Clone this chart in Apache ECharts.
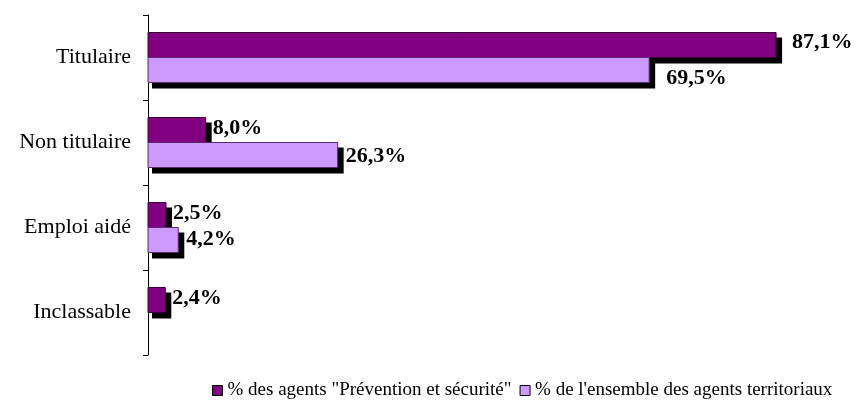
<!DOCTYPE html>
<html><head><meta charset="utf-8">
<script src="https://cdn.jsdelivr.net/npm/echarts@6/dist/echarts.min.js"></script>
<style>html,body{margin:0;padding:0;background:#fff}#c{width:859px;height:404px}</style>
</head><body><div id="c"></div>
<script>
const categories = ['Titulaire', 'Non titulaire', 'Emploi aidé', 'Inclassable'];
const seriesNames = ['% des agents "Prévention et sécurité"', "% de l'ensemble des agents territoriaux"];
const preventionValues = [87.1, 8.0, 2.5, 2.4];
const ensembleValues = [69.5, 26.3, 4.2, null];

const font = '"Liberation Serif","Times New Roman",serif';
const fmt = v => v.toFixed(1).replace('.', ',') + '%';
// label placement tweaks (style only), per series per category: [dx, dy]
const labelTweaks = [
  [[16, -3], [7, -2], [7, -2], [7, -2]],
  [[17, 8], [8, 1], [8, -1], [8, 0]]
];
const fills = ['#800080', '#CC99FF'];
const strokes = ['#3a003a', '#5a2a6a'];
const BAR = 25;

function makeRender(si) {
  return function (params, api) {
    const ci = api.value(0), v = api.value(1);
    if (v == null || isNaN(v)) return;
    const p0 = api.coord([0, ci]);
    const p1 = api.coord([v, ci]);
    const y0 = si === 0 ? p0[1] - BAR : p0[1];
    const w = p1[0] - p0[0];
    const tw = labelTweaks[si][ci];
    return {
      type: 'group',
      children: [
        {type: 'rect', shape: {x: p0[0] + 4, y: y0 + 5, width: w + 2, height: BAR + 1}, style: {fill: '#000'}},
        {type: 'rect', shape: {x: p0[0], y: y0, width: w, height: BAR}, style: {fill: fills[si], stroke: strokes[si], lineWidth: 1}},
        {type: 'text', style: {text: fmt(v), x: p1[0] + tw[0], y: y0 + BAR / 2 + tw[1], textAlign: 'left', textVerticalAlign: 'middle', fill: '#000', font: 'bold 22px ' + font}}
      ]
    };
  };
}

function toData(vals) { return vals.map((v, i) => [i, v == null ? NaN : v]); }

const chart = echarts.init(document.getElementById('c'), null, {renderer: 'canvas'});
chart.setOption({
  animation: false,
  grid: {left: 148, top: 15, width: 649, bottom: 49},
  legend: {
    top: 381, left: 212, width: 647, padding: 0, itemWidth: 10, itemHeight: 10, itemGap: 8, icon: 'rect',
    textStyle: {fontFamily: font, fontSize: 19, color: '#000'},
    itemStyle: {borderColor: '#000', borderWidth: 1},
    data: seriesNames
  },
  xAxis: {type: 'value', min: 0, max: 90, show: false},
  yAxis: {
    type: 'category', data: categories, inverse: true,
    axisLine: {show: true, lineStyle: {color: '#000', width: 1}},
    axisTick: {show: true, length: 5, lineStyle: {color: '#000'}},
    axisLabel: {fontFamily: font, fontSize: 22, color: '#000', margin: 17},
    splitLine: {show: false}
  },
  series: [
    {name: seriesNames[0], type: 'custom', renderItem: makeRender(0), itemStyle: {color: fills[0]},
     encode: {y: 0, x: 1}, data: toData(preventionValues)},
    {name: seriesNames[1], type: 'custom', renderItem: makeRender(1), itemStyle: {color: fills[1]},
     encode: {y: 0, x: 1}, data: toData(ensembleValues)}
  ]
});
</script></body></html>
